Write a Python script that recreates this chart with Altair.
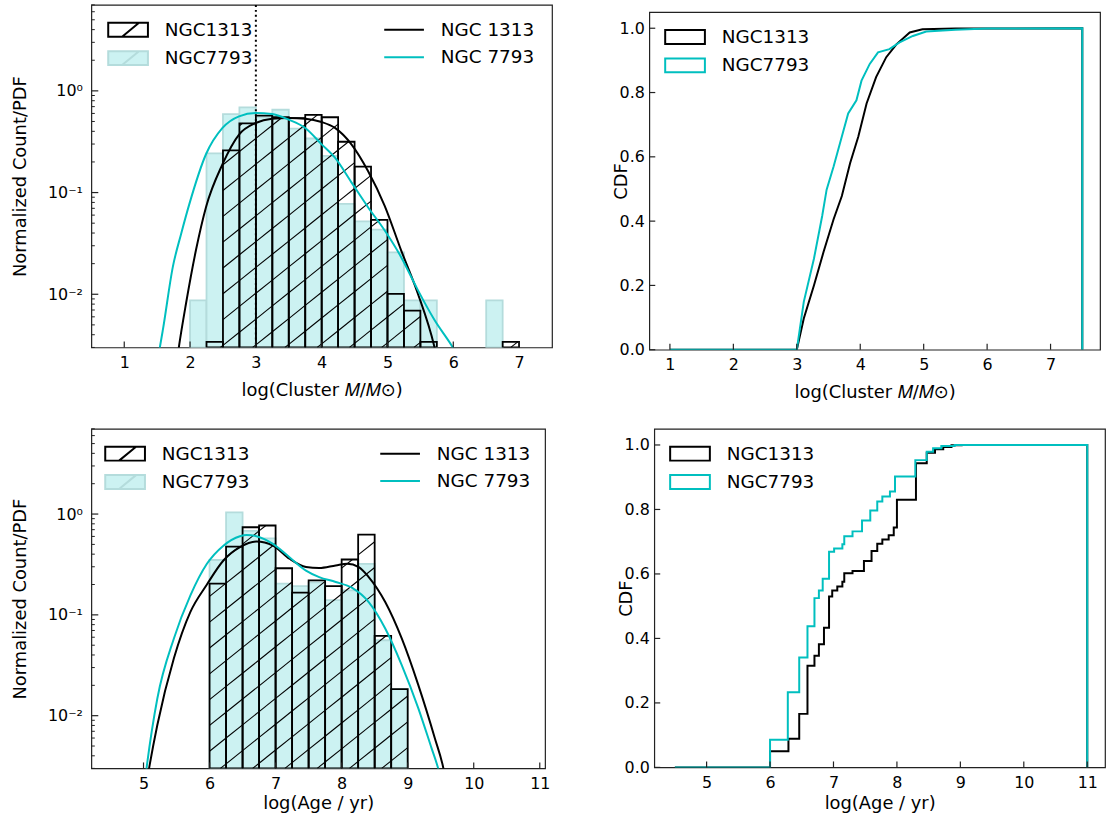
import math
import altair as alt
import pandas as pd

FONT = "DejaVu Sans"
CYAN = "#00bfbf"
FILL_7793 = "#ccf2f2"
EDGE_7793 = "#b4dcdc"
SPINE = "#222222"

# ---------------- data ----------------
mass_bin_width = 0.25
mass_bins_1313 = [2.25, 2.5, 2.75, 3.0, 3.25, 3.5, 3.75, 4.0, 4.25, 4.5, 4.75, 5.0, 5.25, 5.5, 6.75]
mass_norm_1313 = [0.0034, 0.26, 0.48, 0.57, 0.55, 0.54, 0.58, 0.55, 0.316, 0.18, 0.054, 0.0101, 0.0069, 0.0034, 0.0034]
mass_bins_7793 = [2.0, 2.25, 2.5, 2.75, 3.0, 3.25, 3.5, 3.75, 4.0, 4.25, 4.5, 4.75, 5.0, 5.25, 5.5, 6.5]
mass_norm_7793 = [0.0087, 0.243, 0.59, 0.687, 0.55, 0.652, 0.426, 0.34, 0.229, 0.0774, 0.052, 0.0432, 0.0258, 0.0087, 0.0087, 0.0087]

mass_kde_x_1313 = [1.80, 1.83, 1.94, 2.09, 2.242, 2.493, 2.744, 2.996, 3.246, 3.498, 3.75, 4.0, 4.202, 4.452, 4.704, 4.956, 5.206, 5.458, 5.71, 5.75]
mass_kde_y_1313 = [0.0022, 0.00302, 0.0082, 0.0272, 0.0718, 0.190, 0.372, 0.483, 0.533, 0.541, 0.533, 0.494, 0.432, 0.298, 0.163, 0.0745, 0.0272, 0.0103, 0.0031, 0.0024]
mass_kde_x_7793 = [1.50, 1.54, 1.588, 1.739, 1.865, 1.99, 2.242, 2.493, 2.744, 2.996, 3.246, 3.498, 3.75, 4.0, 4.202, 4.452, 4.704, 4.956, 5.206, 5.458, 5.71, 5.986, 6.05]
mass_kde_y_7793 = [0.0022, 0.00299, 0.00451, 0.0187, 0.0394, 0.0774, 0.238, 0.432, 0.562, 0.605, 0.592, 0.521, 0.432, 0.298, 0.220, 0.126, 0.0718, 0.0426, 0.0233, 0.0111, 0.00564, 0.00305, 0.0026]

age_bin_width = 0.25
age_bins_1313 = [6.0, 6.25, 6.5, 6.75, 7.0, 7.25, 7.5, 7.75, 8.0, 8.25, 8.5, 8.75]
age_norm_1313 = [0.204, 0.475, 0.74, 0.77, 0.29, 0.166, 0.22, 0.193, 0.354, 0.625, 0.062, 0.0183]
age_bins_7793 = [6.0, 6.25, 6.5, 6.75, 7.0, 7.25, 7.5, 7.75, 8.0, 8.25, 8.5, 8.75]
age_norm_7793 = [0.35, 1.04, 0.68, 0.575, 0.204, 0.193, 0.21, 0.14, 0.175, 0.32, 0.056, 0.0183]

age_kde_x_1313 = [5.05, 5.085, 5.21, 5.46, 5.71, 5.96, 6.21, 6.46, 6.71, 6.96, 7.21, 7.46, 7.66, 7.91, 8.085, 8.26, 8.41, 8.66, 8.91, 9.16, 9.41, 9.54, 9.57]
age_kde_y_1313 = [0.0022, 0.00302, 0.00813, 0.0371, 0.107, 0.2, 0.346, 0.469, 0.533, 0.486, 0.36, 0.298, 0.291, 0.309, 0.321, 0.298, 0.237, 0.134, 0.0583, 0.0202, 0.00601, 0.00302, 0.0024]
age_kde_x_7793 = [5.02, 5.05, 5.21, 5.46, 5.71, 5.96, 6.21, 6.46, 6.56, 6.71, 6.96, 7.21, 7.46, 7.66, 7.91, 8.16, 8.41, 8.66, 8.91, 9.16, 9.36, 9.46, 9.50]
age_kde_y_7793 = [0.0022, 0.00316, 0.0149, 0.0583, 0.156, 0.321, 0.486, 0.603, 0.621, 0.603, 0.506, 0.373, 0.275, 0.237, 0.212, 0.185, 0.134, 0.0733, 0.0318, 0.0119, 0.00479, 0.00302, 0.0024]

mass_cdf_x_1313 = [1.0, 3.0, 3.11, 3.27, 3.42, 3.58, 3.71, 3.84, 3.97, 4.10, 4.25, 4.41, 4.57, 4.78, 4.98, 5.5, 7.5, 7.5]
mass_cdf_y_1313 = [0.0, 0.0, 0.097, 0.2, 0.303, 0.406, 0.478, 0.58, 0.663, 0.766, 0.848, 0.91, 0.95, 0.987, 0.997, 0.999, 1.0, 0.0]
mass_cdf_x_7793 = [1.0, 3.0, 3.11, 3.27, 3.40, 3.47, 3.58, 3.71, 3.81, 3.94, 4.02, 4.15, 4.28, 4.46, 4.62, 4.83, 5.04, 5.5, 6.0, 7.5, 7.5]
mass_cdf_y_7793 = [0.0, 0.0, 0.149, 0.283, 0.416, 0.498, 0.57, 0.663, 0.735, 0.776, 0.837, 0.889, 0.925, 0.935, 0.956, 0.976, 0.99, 0.995, 0.999, 1.0, 0.0]

age_cdf_x_1313 = [4.5, 6.0, 6.29, 6.46, 6.59, 6.70, 6.77, 6.85, 6.93, 6.98, 7.06, 7.14, 7.17, 7.30, 7.48, 7.60, 7.69, 7.77, 7.87, 7.95, 8.0, 8.30, 8.47, 8.60, 8.73, 8.86, 9.02, 11.0, 11.0]
age_cdf_y_1313 = [0.0, 0.05, 0.089, 0.166, 0.315, 0.346, 0.382, 0.433, 0.53, 0.549, 0.561, 0.576, 0.602, 0.609, 0.64, 0.671, 0.694, 0.707, 0.72, 0.744, 0.83, 0.943, 0.976, 0.987, 0.994, 0.999, 1.0, 1.0, 0.0]
age_cdf_x_7793 = [4.5, 6.0, 6.28, 6.46, 6.59, 6.70, 6.77, 6.83, 6.93, 7.01, 7.14, 7.17, 7.30, 7.45, 7.58, 7.69, 7.77, 7.89, 7.97, 8.29, 8.47, 8.57, 8.70, 8.91, 11.0, 11.0]
age_cdf_y_7793 = [0.0, 0.086, 0.233, 0.341, 0.438, 0.525, 0.549, 0.585, 0.669, 0.679, 0.692, 0.717, 0.732, 0.766, 0.797, 0.825, 0.84, 0.856, 0.902, 0.953, 0.979, 0.99, 0.997, 1.0, 1.0, 0.0]

# tick values / labels
mass_xticks = [1, 2, 3, 4, 5, 6, 7]
age_xticks = [5, 6, 7, 8, 9, 10, 11]
log_major = [0.01, 0.1, 1]
log_minor = [0.003, 0.004, 0.005, 0.006, 0.007, 0.008, 0.009,
             0.02, 0.03, 0.04, 0.05, 0.06, 0.07, 0.08, 0.09,
             0.2, 0.3, 0.4, 0.5, 0.6, 0.7, 0.8, 0.9,
             2, 3, 4, 5, 6, 7]
cdf_yticks = [0.0, 0.2, 0.4, 0.6, 0.8, 1.0]
MASS_TITLE = "log(Cluster 𝑀/𝑀⊙)"
AGE_TITLE = "log(Age / yr)"
HIST_LEGEND = ["NGC1313", "NGC7793"]
KDE_LEGEND = ["NGC 1313", "NGC 7793"]


# ---------------- helpers ----------------
def x_axis(values, title, title_y):
    return alt.Axis(values=values, title=title, format="d", labelFlush=False, ticks=False,
                    labelPadding=7, titleY=title_y, titleBaseline="middle")


def ylog_axis(H):
    return alt.Axis(values=log_major, title="Normalized Count/PDF", labelOverlap=False, labelFlush=False,
                    labelExpr="datum.value == 1 ? '10⁰' : (datum.value == 0.1 ? '10⁻¹' : '10⁻²')",
                    ticks=False, labelPadding=9, titleX=-71, titleY=H / 2, titleAlign="center",
                    titleBaseline="middle")


def ycdf_axis(H):
    return alt.Axis(values=cdf_yticks, title="CDF", format=".1f", labelFlush=False, ticks=False,
                    labelPadding=5, titleX=-28, titleY=H / 2, titleAlign="center", titleBaseline="middle")


def hatch_segments(bins, vals, bw, xdom, ydom, W, H, slope=0.8, spacing=26.0, phase=0.0):
    lx0, lx1 = xdom
    ly0, ly1 = math.log10(ydom[0]), math.log10(ydom[1])
    kx = W / (lx1 - lx0)
    ky = H / (ly1 - ly0)
    segs = []
    for b, v in zip(bins, vals):
        X0 = (b - lx0) * kx
        X1 = (b + bw - lx0) * kx
        T = (math.log10(v) - ly0) * ky
        if T <= 0:
            continue
        kmin = math.ceil((slope * X0 - T - phase) / spacing)
        kmax = math.floor((slope * X1 - phase) / spacing)
        for k in range(kmin, kmax + 1):
            c = phase + k * spacing
            xa = max(X0, c / slope)
            xb = min(X1, (T + c) / slope)
            if xb - xa < 0.5:
                continue
            ya = slope * xa - c
            yb = slope * xb - c
            segs.append({"hx1": lx0 + xa / kx, "hy1": 10 ** (ly0 + ya / ky),
                         "hx2": lx0 + xb / kx, "hy2": 10 ** (ly0 + yb / ky)})
    return pd.DataFrame(segs)


HIST_SYMBOL = "M-2,-0.7H2V0.7H-2Z M-0.6,0.7L1.1,-0.7"
BOX_SYMBOL = "M-2,-0.7H2V0.7H-2Z"
LINE_SYMBOL = "M-2,0H2"


def legend(x, y, symbol, **kw):
    return alt.Legend(title=None, orient="none", legendX=x, legendY=y, symbolSize=400,
                      symbolType=symbol, symbolStrokeWidth=2, labelFontSize=18.5, labelFont=FONT,
                      labelColor="black", labelOffset=26, rowPadding=6.6, symbolOffset=10, padding=0,
                      labelLimit=300, **kw)


def tick_layers(xs, ys, xa, ya, xticks, H, ymaj, ymin=None, maj_len=7, min_len=3.5):
    out = [alt.Chart(pd.DataFrame({"t": xticks})).mark_rule(color=SPINE, strokeWidth=1.2).encode(
        x=alt.X("t:Q", scale=xs, axis=xa), y=alt.value(H), y2=alt.value(H - 6))]
    out.append(alt.Chart(pd.DataFrame({"t": ymaj})).mark_rule(color=SPINE, strokeWidth=1.2).encode(
        y=alt.Y("t:Q", scale=ys, axis=ya), x=alt.value(0), x2=alt.value(maj_len)))
    if ymin is not None:
        out.append(alt.Chart(pd.DataFrame({"t": ymin})).mark_rule(color=SPINE, strokeWidth=1).encode(
            y=alt.Y("t:Q", scale=ys, axis=ya), x=alt.value(0), x2=alt.value(min_len)))
    return out


def hist_panel(bins_a, vals_a, bins_b, vals_b, bw, kx_a, ky_a, kx_b, ky_b,
               xdom, W, H, xticks, xtitle, title_y, vline, hist_leg_xy, line_leg_xy, phase):
    ydom = [0.003, 7]
    xs = alt.Scale(domain=xdom, nice=False, zero=False)
    ys = alt.Scale(type="log", domain=ydom, nice=False)
    xa = x_axis(xticks, xtitle, title_y)
    ya = ylog_axis(H)

    rows = [{"lo": b, "hi": b + bw, "v": v, "hist": "NGC7793"} for b, v in zip(bins_b, vals_b)]
    rows += [{"lo": b, "hi": b + bw, "v": v, "hist": "NGC1313"} for b, v in zip(bins_a, vals_a)]
    hl = legend(*hist_leg_xy, HIST_SYMBOL)
    bars = alt.Chart(pd.DataFrame(rows)).mark_rect(clip=True, strokeWidth=1.8).encode(
        x=alt.X("lo:Q", scale=xs, axis=xa),
        x2="hi:Q",
        y=alt.Y("v:Q", scale=ys, axis=ya),
        y2=alt.datum(0.003),
        fill=alt.Fill("hist:N", scale=alt.Scale(domain=HIST_LEGEND, range=["rgba(255,255,255,0)", FILL_7793]),
                      legend=hl),
        stroke=alt.Stroke("hist:N", scale=alt.Scale(domain=HIST_LEGEND, range=["#000000", EDGE_7793]),
                          legend=hl),
    )

    hdf = hatch_segments(bins_a, vals_a, bw, xdom, ydom, W, H, phase=phase)
    hatch = alt.Chart(hdf).mark_rule(clip=True, stroke="#000000", strokeWidth=1.1).encode(
        x=alt.X("hx1:Q", scale=xs, axis=xa), y=alt.Y("hy1:Q", scale=ys, axis=ya),
        x2="hx2:Q", y2="hy2:Q")

    kde_rows = [{"x": x, "y": y, "kde": KDE_LEGEND[0], "i": i} for i, (x, y) in enumerate(zip(kx_a, ky_a))]
    kde_rows += [{"x": x, "y": y, "kde": KDE_LEGEND[1], "i": i} for i, (x, y) in enumerate(zip(kx_b, ky_b))]
    ll = legend(*line_leg_xy, LINE_SYMBOL)
    lines = alt.Chart(pd.DataFrame(kde_rows)).mark_line(clip=True, strokeWidth=2, interpolate="monotone").encode(
        x=alt.X("x:Q", scale=xs, axis=xa), y=alt.Y("y:Q", scale=ys, axis=ya),
        stroke=alt.Stroke("kde:N", scale=alt.Scale(domain=KDE_LEGEND, range=["#000000", CYAN]), legend=ll),
        order="i:Q")

    layers = [bars, hatch, lines]
    if vline is not None:
        layers.append(alt.Chart(pd.DataFrame({"vx": [vline]})).mark_rule(
            strokeDash=[2, 3], strokeWidth=2, color="#000000").encode(x=alt.X("vx:Q", scale=xs, axis=xa)))
    layers += tick_layers(xs, ys, xa, ya, xticks, H, log_major, log_minor)
    return alt.layer(*layers).resolve_scale(stroke="independent", fill="independent").properties(
        width=W, height=H)


def cdf_panel(xa_, ya_, xb_, yb_, xdom, W, H, xticks, xtitle, title_y, interp, leg_xy):
    xs = alt.Scale(domain=xdom, nice=False, zero=False)
    ys = alt.Scale(domain=[0, 1.05], nice=False)
    xa = x_axis(xticks, xtitle, title_y)
    ya = ycdf_axis(H)
    rows = [{"x": x, "y": y, "gal": HIST_LEGEND[0], "i": i} for i, (x, y) in enumerate(zip(xa_, ya_))]
    rows += [{"x": x, "y": y, "gal": HIST_LEGEND[1], "i": i} for i, (x, y) in enumerate(zip(xb_, yb_))]
    lg = legend(*leg_xy, BOX_SYMBOL, symbolFillColor="transparent")
    line = alt.Chart(pd.DataFrame(rows)).mark_line(clip=True, strokeWidth=2, interpolate=interp).encode(
        x=alt.X("x:Q", scale=xs, axis=xa),
        y=alt.Y("y:Q", scale=ys, axis=ya),
        stroke=alt.Stroke("gal:N", scale=alt.Scale(domain=HIST_LEGEND, range=["#000000", CYAN]), legend=lg),
        order="i:Q")
    layers = [line] + tick_layers(xs, ys, xa, ya, xticks, H, cdf_yticks, None, maj_len=6)
    return alt.layer(*layers).properties(width=W, height=H)


TL = hist_panel(mass_bins_1313, mass_norm_1313, mass_bins_7793, mass_norm_7793, mass_bin_width,
                mass_kde_x_1313, mass_kde_y_1313, mass_kde_x_7793, mass_kde_y_7793,
                [0.5, 7.5], 464, 345, mass_xticks, MASS_TITLE, 43, 3.0, (16, 14), (294, 14), 0.0)
BL = hist_panel(age_bins_1313, age_norm_1313, age_bins_7793, age_norm_7793, age_bin_width,
                age_kde_x_1313, age_kde_y_1313, age_kde_x_7793, age_kde_y_7793,
                [4.21, 11.08], 457, 342, age_xticks, AGE_TITLE, 35, None, (13, 14), (290, 14), 0.0)
TR = cdf_panel(mass_cdf_x_1313, mass_cdf_y_1313, mass_cdf_x_7793, mass_cdf_y_7793,
               [0.675, 7.78], 454, 340, mass_xticks, MASS_TITLE, 43, "linear", (15, 14))
BR = cdf_panel(age_cdf_x_1313, age_cdf_y_1313, age_cdf_x_7793, age_cdf_y_7793,
               [4.175, 11.28], 454, 341, age_xticks, AGE_TITLE, 36, "step-after", (15, 14))

spacer = alt.Chart(pd.DataFrame({"a": [0]})).mark_rule(stroke="transparent", strokeWidth=0.1).encode(
    x=alt.value(0), x2=alt.value(1), y=alt.value(0.5)).properties(
    width=454, height=1, view=alt.ViewBackground(stroke="transparent"))
TR_col = alt.vconcat(spacer, TR, spacing=4.3).resolve_scale(stroke="independent", fill="independent")

top = alt.hconcat(TL, TR_col, spacing=59).resolve_scale(stroke="independent", fill="independent")
bottom = alt.hconcat(BL, BR, spacing=66).resolve_scale(stroke="independent", fill="independent")
chart = alt.vconcat(top, bottom, spacing=25).resolve_scale(
    stroke="independent", fill="independent"
).properties(
    padding={"left": 11, "top": 0, "right": 0, "bottom": 0}
).configure_view(stroke=SPINE, strokeWidth=1.2).configure_axis(
    labelFont=FONT, titleFont=FONT, labelFontSize=16, titleFontSize=18, labelColor="#000000",
    titleColor="#000000", titleFontWeight="normal", grid=False, domain=False
).configure_legend(labelFont=FONT)

chart.save("out.html", embed_options={"renderer": "svg", "actions": False})
